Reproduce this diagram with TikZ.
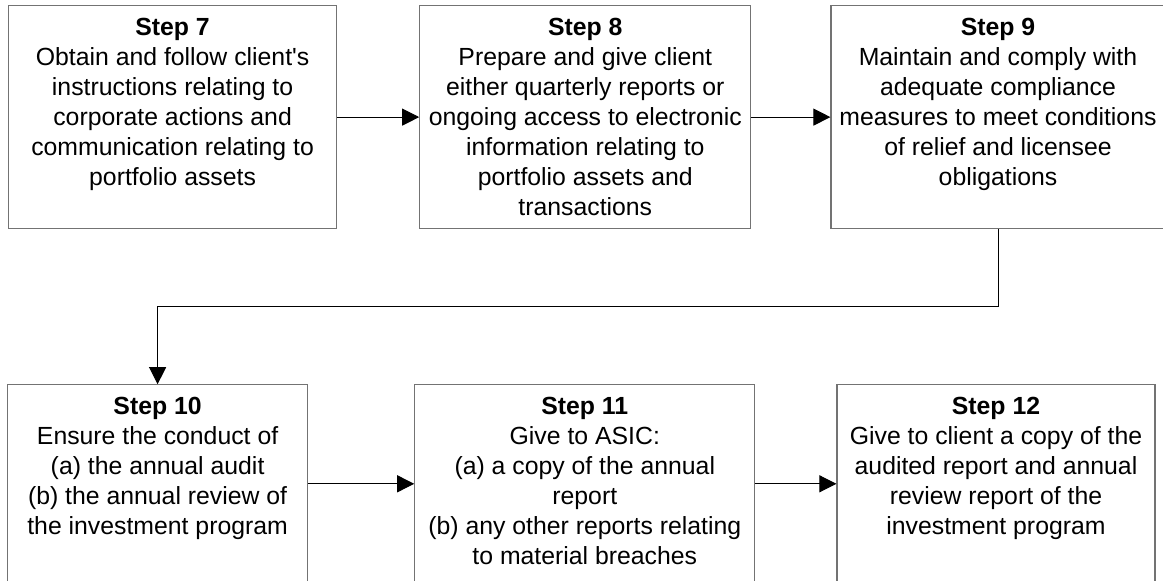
\documentclass[tikz,border=0pt]{standalone}
\usepackage{fontspec}
\setmainfont{Liberation Sans}
\usepackage{tikz}
\usetikzlibrary{arrows.meta,positioning}
\tikzstyle{stepbox} = [rectangle, draw=black!55, line width=0.6pt, fill=white,
                       inner sep=0pt, font=\fontsize{12.4}{15}\selectfont]
\tikzstyle{arrow} = [-{Triangle[length=8.5pt,width=8.5pt]}, line width=0.5pt]
% width, height, title, body
\newcommand{\steptext}[4]{\parbox[c][#2][t]{#1}{\centering\vspace*{6.3pt}\textbf{#3}\\#4}}

\begin{document}
\begin{tikzpicture}
    \useasboundingbox (0,0) rectangle (581.5pt,-290pt);
    \node [stepbox, anchor=north west] (s7) at (4pt,-2.5pt)
      {\steptext{164pt}{111.5pt}{Step 7}{Obtain and follow client\textquotesingle s\\instructions relating to\\corporate actions and\\communication relating to\\portfolio assets}};
    \node [stepbox, right=41pt of s7] (s8)
      {\steptext{165.5pt}{111.5pt}{Step 8}{Prepare and give client\\either quarterly reports or\\ongoing access to electronic\\information relating to\\portfolio assets and\\transactions}};
    \node [stepbox, right=39.5pt of s8] (s9)
      {\steptext{167pt}{111.5pt}{Step 9}{Maintain and comply with\\adequate compliance\\measures to meet conditions\\of relief and licensee\\obligations}};
    \node [stepbox, below=77.5pt of s7.south west, anchor=north west, xshift=-0.5pt] (s10)
      {\steptext{150pt}{99pt}{Step 10}{Ensure the conduct of\\(a) the annual audit\\(b) the annual review of\\the investment program}};
    \node [stepbox, right=53pt of s10] (s11)
      {\steptext{170pt}{99pt}{Step 11}{Give to ASIC:\\(a) a copy of the annual\\report\\(b) any other reports relating\\to material breaches}};
    \node [stepbox, right=40.5pt of s11] (s12)
      {\steptext{159pt}{99pt}{Step 12}{Give to client a copy of the\\audited report and annual\\review report of the\\investment program}};

    \draw [arrow] (s7) -- (s8);
    \draw [arrow] (s8) -- (s9);
    \draw [arrow] (s9.south) -- ++(0,-38.5pt) -| (s10.north);
    \draw [arrow] (s10) -- (s11);
    \draw [arrow] (s11) -- (s12);
  \end{tikzpicture}
\end{document}
